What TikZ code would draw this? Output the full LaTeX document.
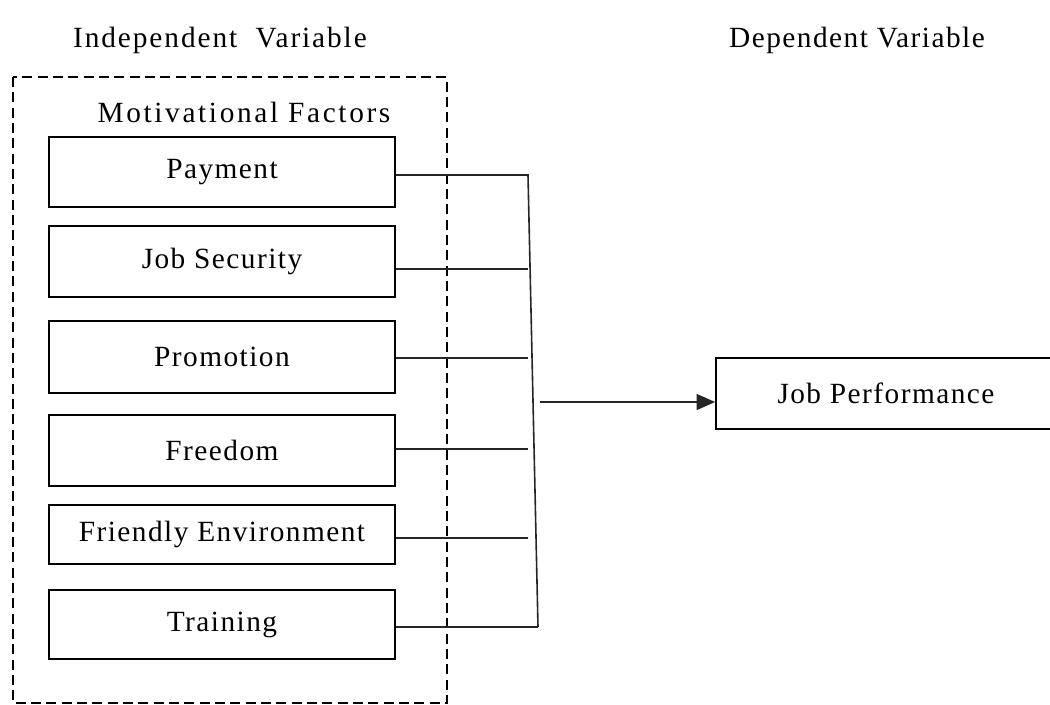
\documentclass[tikz,border=0pt]{standalone}
\usepackage{fontspec}
\setmainfont{Liberation Serif}[LetterSpace=5]
\newfontfamily\widefont{Liberation Serif}[LetterSpace=9]
\newfontfamily\midfont{Liberation Serif}[LetterSpace=6.5]
\usetikzlibrary{arrows.meta}

\begin{document}
\begin{tikzpicture}[x=0.75pt,y=-0.75pt,
  txt/.style={font=\fontsize{22}{26}\selectfont, inner sep=0pt},
  factor/.style={draw, line width=1.2pt, minimum width=259.5pt, inner sep=0pt,
    font=\fontsize{22}{26}\selectfont},
  group/.style={draw, line width=1.1pt, dash pattern=on 7.5pt off 4pt},
  link/.style={draw=black!85, line width=1.2pt},
  tip/.style={-{Triangle[length=14pt,width=12pt]}}]
\useasboundingbox (0,0) rectangle (1050,704);
\clip (0,0) rectangle (1050,704);

% headings
\node[txt] (indep) at (220,40) {\midfont Independent\ \ Variable};
\node[txt] (dep) at (857,40) {Dependent Variable};

% dashed frame round the independent variables
\draw[group] (13,77) rectangle (447,703);
\node[txt] (motiv) at (244,112) {\widefont Motivational Factors};

% factor boxes
\node[factor, minimum height=52.5pt] (pay) at (222,172) {Payment};
\node[factor, minimum height=53.25pt] (sec) at (222,261.5) {Job Security};
\node[factor, minimum height=54pt] (pro) at (222,357) {Promotion};
\node[factor, minimum height=53.25pt] (fre) at (222,450.5) {Freedom};
\node[factor, minimum height=44.25pt] (fri) at (222,534.5) {Friendly Environment};
\node[factor, minimum height=51.75pt] (tra) at (222,624.5) {Training};

% dependent variable
\node[factor, minimum width=255pt, minimum height=53.25pt] (jp) at (886,393.5) {Job Performance};

% bus collecting the factors
\coordinate (b1) at (528,175);
\coordinate (b2) at (528,269);
\coordinate (b3) at (528,358);
\coordinate (b4) at (528,449);
\coordinate (b5) at (528,538);
\coordinate (b6) at (538,627);
\coordinate (hub) at (540,402);

\draw[link] (b1 -| pay.east) -- (b1) -- (b6);
\draw[link] (b2 -| sec.east) -- (b2);
\draw[link] (b3 -| pro.east) -- (b3);
\draw[link] (b4 -| fre.east) -- (b4);
\draw[link] (b5 -| fri.east) -- (b5);
\draw[link] (b6 -| tra.east) -- (b6);
\draw[link, tip] (hub) -- (hub -| jp.west);
\end{tikzpicture}
\end{document}
